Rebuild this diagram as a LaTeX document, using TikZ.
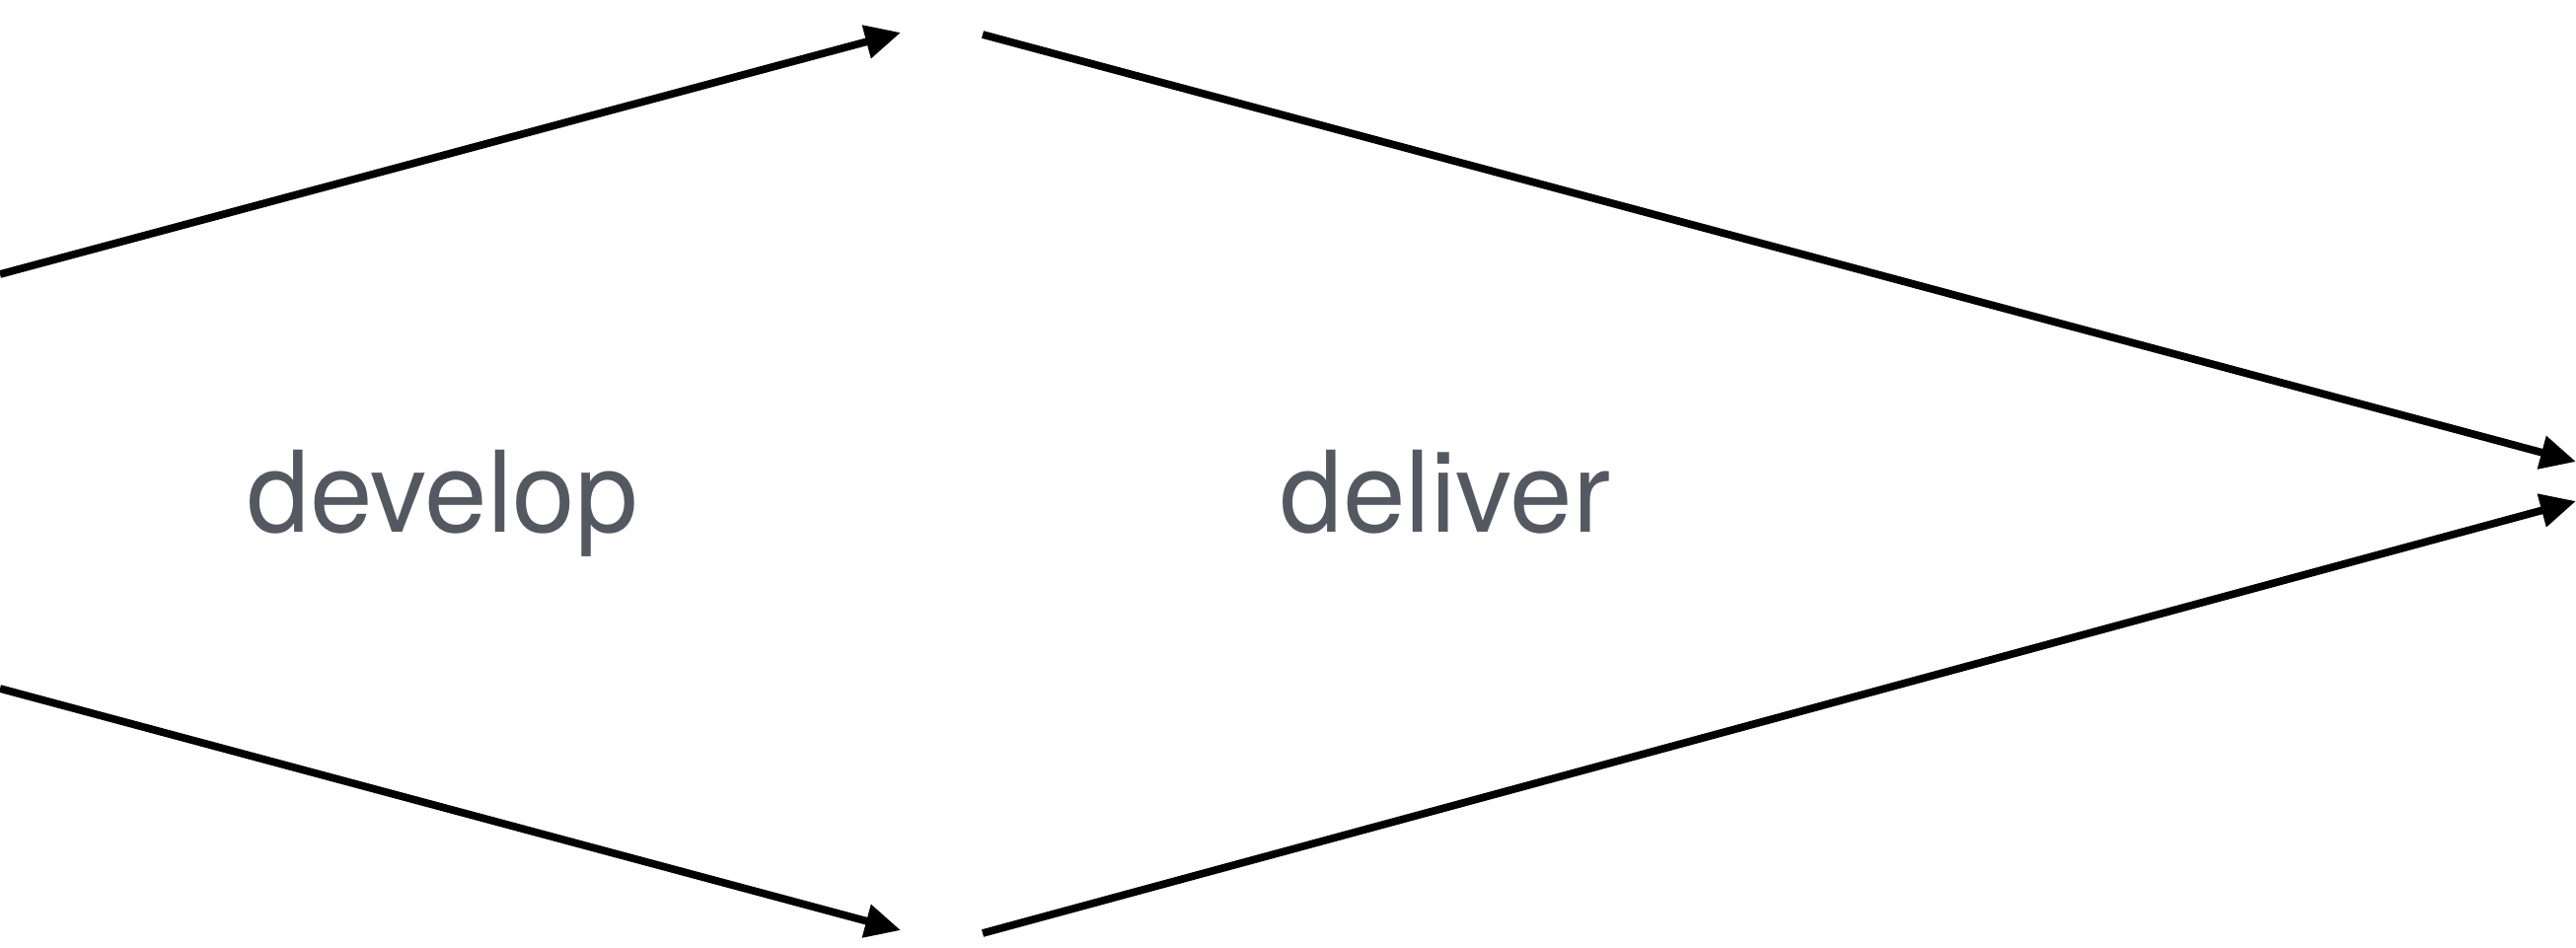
\documentclass[tikz,border=0pt]{standalone}
\usepackage{fontspec}
\setmainfont{TeX Gyre Heros}
\usetikzlibrary{arrows.meta}
\definecolor{labelgray}{HTML}{545861}
\tikzset{
  flow/.style={line width=2.2pt, draw=black, -{Triangle[length=0.36cm,width=0.33cm]}},
  phase/.style={text=labelgray, font=\fontsize{32.5}{39}\selectfont, anchor=base, inner sep=0pt}
}
\begin{document}
\begin{tikzpicture}
\useasboundingbox (0,0) rectangle (26.11,-9.61);
\coordinate (tlStart) at (0,-2.78);
\coordinate (tlEnd) at (9.13,-0.33);
\coordinate (blStart) at (0,-6.98);
\coordinate (blEnd) at (9.13,-9.43);
\coordinate (trStart) at (9.96,-0.35);
\coordinate (trEnd) at (26.11,-4.68);
\coordinate (brStart) at (9.96,-9.46);
\coordinate (brEnd) at (26.11,-5.08);
\draw[flow] (tlStart) -- (tlEnd);
\draw[flow] (blStart) -- (blEnd);
\draw[flow] (trStart) -- (trEnd);
\draw[flow] (brStart) -- (brEnd);
\node[phase] (develop) at (4.485,-5.39) {develop};
\node[phase] (deliver) at (14.65,-5.39) {deliver};
\end{tikzpicture}
\end{document}
